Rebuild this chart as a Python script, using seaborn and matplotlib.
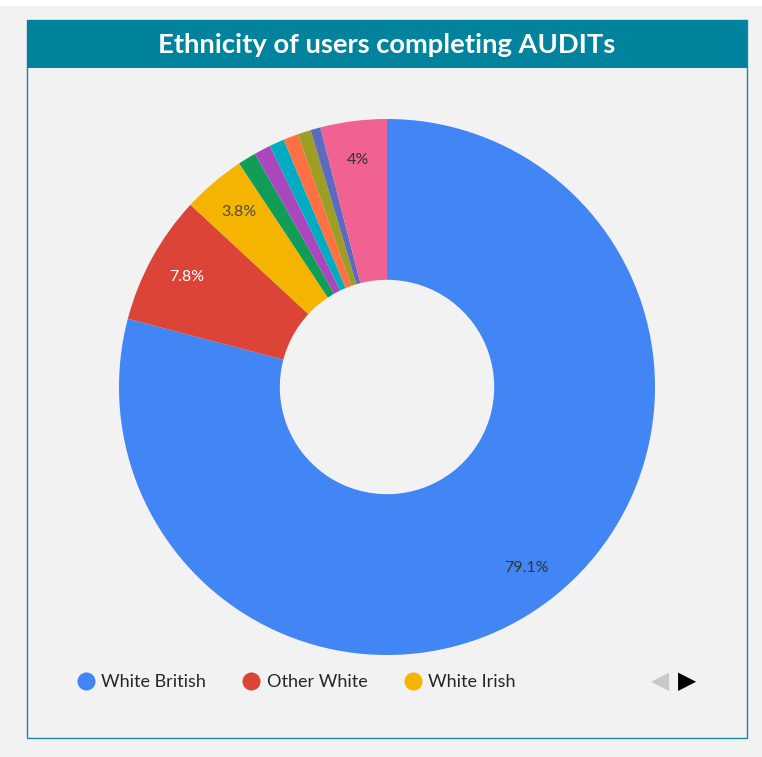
import matplotlib
matplotlib.use("Agg")
import matplotlib.pyplot as plt
import seaborn as sns
from matplotlib.lines import Line2D
from matplotlib.patches import Rectangle

# data (percent)
groups = ["White British", "Other White", "White Irish", "Group 4", "Group 5",
          "Group 6", "Group 7", "Group 8", "Group 9", "Group 10"]
shares = [79.1, 7.8, 3.8, 1.1, 1.0, 0.9, 0.9, 0.8, 0.6, 4.0]
legend_shown = ["White British", "Other White", "White Irish"]
label_colours = ["#333333", "white", "#4d4d4d", "#333333", "#333333",
                 "#333333", "#333333", "#333333", "#333333", "#333333"]

colours = sns.color_palette(["#4285f4", "#db4437", "#f4b400", "#0f9d58", "#ab47bc",
                             "#00acc1", "#ff7043", "#9e9d24", "#5c6bc0", "#f06292"])

sns.set_theme(style="white")
plt.rcParams["font.family"] = ["Lato", "DejaVu Sans"]

W, H = 762, 757
fig = plt.figure(figsize=(W / 100, H / 100), dpi=100)
fig.patch.set_facecolor("#f2f2f2")

# white strip at top, panel border and title bar (kept behind the pie)
fig.add_artist(Rectangle((0, 1 - 6 / H), 1, 6 / H, transform=fig.transFigure,
                         facecolor="white", edgecolor="none", zorder=-2))
fig.add_artist(Rectangle((27 / W, (H - 738) / H), 720 / W, 718 / H, transform=fig.transFigure,
                         facecolor="#f2f2f2", edgecolor="#1a8aa3", linewidth=1, zorder=-2))
fig.add_artist(Rectangle((27 / W, (H - 68) / H), 720 / W, 48 / H, transform=fig.transFigure,
                         facecolor="#02839d", edgecolor="none", zorder=-1))
fig.text(387 / W, (H - 45) / H, "Ethnicity of users completing AUDITs", color="white",
         fontsize=19.7, fontweight="bold", ha="center", va="center")

ax = fig.add_axes([119 / W, (H - 387 - 268) / H, 536 / W, 536 / H])
ax.set_facecolor("none")
ax.set_zorder(2)


def pct_text(p):
    return f"{round(p, 1):g}%" if p >= 3 else ""


wedges, texts, autotexts = ax.pie(shares, colors=colours, startangle=90, counterclock=False,
                                  autopct=pct_text, pctdistance=0.855,
                                  wedgeprops=dict(width=0.6, linewidth=0),
                                  textprops=dict(fontsize=11.5))
for t, c in zip(autotexts, label_colours):
    t.set_color(c)
ax.set_aspect("equal")
ax.set_xlim(-1, 1)
ax.set_ylim(-1, 1)
ax.axis("off")

handles = [Line2D([], [], marker="o", linestyle="", markersize=13,
                  markerfacecolor=colours[i], markeredgecolor="none")
           for i in range(len(legend_shown))]
fig.legend(handles, legend_shown, loc="center left", bbox_to_anchor=(59 / W, (H - 682) / H),
           ncol=3, frameon=False, fontsize=13, handletextpad=0.25, columnspacing=1.9,
           handlelength=1.2)

fig.text(660 / W, (H - 681) / H, "◀", color="#c8c8c8", fontsize=17, ha="center", va="center",
         family="DejaVu Sans")
fig.text(687 / W, (H - 681) / H, "▶", color="black", fontsize=17, ha="center", va="center",
         family="DejaVu Sans")

fig.savefig("out.png", dpi=100, facecolor=fig.get_facecolor())
